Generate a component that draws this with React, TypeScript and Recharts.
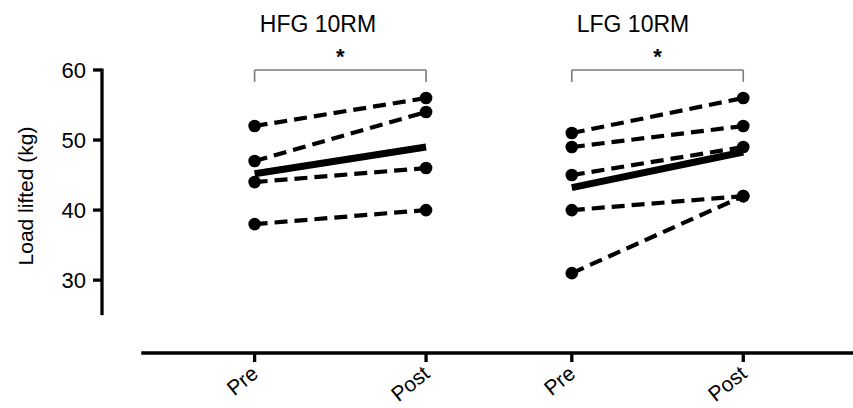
import React from "react";
import {
  LineChart,
  Line,
  XAxis,
  YAxis,
  ReferenceLine,
} from "recharts";

// x positions of the Pre / Post columns (numeric axis, groups are spaced apart)
const hfgX = [1, 2];
const lfgX = [2.85, 3.85];
const xTicks = [1, 2, 2.85, 3.85];
const xTickLabels = ["Pre", "Post", "Pre", "Post"];
const yTicks = [30, 40, 50, 60];

// individual subjects, Pre -> Post (kg)
const hfgPre = [52, 47, 44, 38];
const hfgPost = [56, 54, 46, 40];
const hfgMean = [45.2, 49];

const lfgPre = [51, 49, 45, 40, 31];
const lfgPost = [56, 52, 49, 42, 42];
const lfgMean = [43.2, 48.3];

const groupTitles = ["HFG 10RM", "LFG 10RM"];

const pair = (xs: number[], a: number, b: number) => [
  { x: xs[0], y: a },
  { x: xs[1], y: b },
];

const font = '"Liberation Sans", Arial, sans-serif';
const ink = "#000";

const XTick = (props: any) => {
  const { x, y, index } = props;
  return (
    <g transform={`translate(${x + 5},${y + 12})`}>
      <text
        x={0}
        y={0}
        textAnchor="end"
        transform="rotate(-39)"
        fontSize={21}
        fontFamily={font}
        fill={ink}
      >
        {xTickLabels[index]}
      </text>
    </g>
  );
};

const App: React.FC = () => {
  const series = [
    ...hfgPre.map((v, i) => pair(hfgX, v, hfgPost[i])),
    ...lfgPre.map((v, i) => pair(lfgX, v, lfgPost[i])),
  ];

  return (
    <div
      style={{
        position: "absolute",
        left: 0,
        top: 0,
        width: 853,
        height: 408,
        background: "#fff",
        fontFamily: font,
      }}
    >
      {/* group titles */}
      {groupTitles.map((t, i) => (
        <div
          key={t}
          style={{
            position: "absolute",
            left: (i === 0 ? 318 : 633) - 100,
            width: 200,
            top: 13,
            textAlign: "center",
            fontSize: 23,
            lineHeight: "23px",
            color: ink,
          }}
        >
          {t}
        </div>
      ))}

      <LineChart
        width={853}
        height={408}
        margin={{ top: 70, right: 0, bottom: 5, left: 42 }}
        style={{ fontFamily: font }}
      >
        <XAxis
          type="number"
          dataKey="x"
          domain={[0.11, 4.49]}
          ticks={xTicks}
          interval={0}
          axisLine={false}
          tickLine={{ stroke: ink, strokeWidth: 3.3 }}
          tickSize={9}
          height={50}
          tick={<XTick />}
          allowDataOverflow
        />
        <YAxis
          type="number"
          dataKey="y"
          domain={[19.6, 60]}
          ticks={yTicks}
          interval={0}
          axisLine={false}
          tickLine={{ stroke: ink, strokeWidth: 3.3 }}
          tickSize={9}
          tickMargin={7}
          width={60}
          tick={{ fontSize: 22, fill: ink, fontFamily: font }}
          allowDataOverflow
          label={() => (
            <text
              x={25}
              y={196}
              transform="rotate(-90 25 196)"
              textAnchor="middle"
              dominantBaseline="central"
              fontSize={21}
              fontFamily={font}
              fill={ink}
            >
              Load lifted (kg)
            </text>
          )}
        />

        {/* detached axis lines */}
        <ReferenceLine
          segment={[
            { x: 0.11, y: 25 },
            { x: 0.11, y: 60.2 },
          ]}
          stroke={ink}
          strokeWidth={3.3}
          ifOverflow="visible"
        />
        <ReferenceLine
          segment={[
            { x: 0.339, y: 19.6 },
            { x: 4.49, y: 19.6 },
          ]}
          stroke={ink}
          strokeWidth={3.3}
          ifOverflow="visible"
        />

        {/* significance brackets */}
        {[hfgX, lfgX].map((xs, i) => (
          <React.Fragment key={i}>
            <ReferenceLine
              segment={[
                { x: xs[0], y: 60 },
                { x: xs[1], y: 60 },
              ]}
              stroke="#7a7a7a"
              strokeWidth={1.6}
              ifOverflow="visible"
              label={{
                value: "*",
                position: "top",
                offset: 6,
                fontSize: 22,
                fill: ink,
                fontWeight: "bold",
              }}
            />
            <ReferenceLine
              segment={[
                { x: xs[0], y: 60 },
                { x: xs[0], y: 58.3 },
              ]}
              stroke="#7a7a7a"
              strokeWidth={1.6}
              ifOverflow="visible"
            />
            <ReferenceLine
              segment={[
                { x: xs[1], y: 60 },
                { x: xs[1], y: 58.3 },
              ]}
              stroke="#7a7a7a"
              strokeWidth={1.6}
              ifOverflow="visible"
            />
          </React.Fragment>
        ))}

        {/* individual subjects (dashed) */}
        {series.map((d, i) => (
          <Line
            key={`s${i}`}
            data={d}
            dataKey="y"
            type="linear"
            stroke={ink}
            strokeWidth={4.2}
            strokeDasharray="13 7"
            dot={{ r: 6.3, fill: ink, stroke: ink, strokeWidth: 0 }}
            isAnimationActive={false}
          />
        ))}

        {/* group means (solid, thick) */}
        <Line
          data={pair(hfgX, hfgMean[0], hfgMean[1])}
          dataKey="y"
          type="linear"
          stroke={ink}
          strokeWidth={7}
          dot={false}
          isAnimationActive={false}
        />
        <Line
          data={pair(lfgX, lfgMean[0], lfgMean[1])}
          dataKey="y"
          type="linear"
          stroke={ink}
          strokeWidth={7}
          dot={false}
          isAnimationActive={false}
        />
      </LineChart>
    </div>
  );
};

export default App;
